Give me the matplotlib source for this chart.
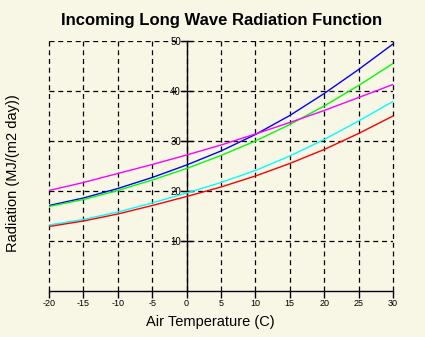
import matplotlib
matplotlib.use("Agg")
import matplotlib.pyplot as plt

# air temperature (C)
temps = [-20, -15, -10, -5, 0, 5, 10, 15, 20, 25, 30]

# incoming long wave radiation, MJ/(m2 day)
blue = [17.1, 18.6, 20.5, 22.7, 25.2, 28.0, 31.3, 35.1, 39.5, 44.3, 49.4]
green = [16.9, 18.3, 20.1, 22.2, 24.5, 27.1, 30.0, 33.3, 37.0, 41.1, 45.5]
magenta = [20.1, 21.7, 23.5, 25.3, 27.2, 29.2, 31.4, 33.7, 36.1, 38.7, 41.3]
cyan = [13.2, 14.3, 15.8, 17.6, 19.6, 21.7, 24.1, 27.0, 30.3, 34.0, 37.9]
red = [12.9, 14.0, 15.4, 17.1, 18.9, 20.8, 23.0, 25.5, 28.3, 31.5, 35.0]

x_ticks = [-20, -15, -10, -5, 0, 5, 10, 15, 20, 25, 30]
y_ticks = [10, 20, 30, 40, 50]

BG = "#F8F7E6"

plt.rcParams["font.family"] = ["Liberation Sans", "DejaVu Sans"]

fig = plt.figure(figsize=(4.25, 3.37), dpi=100, facecolor=BG)
ax = fig.add_axes([49 / 425, 46 / 337, 344 / 425, 250 / 337], facecolor=BG)

series = [
    (blue, "#0000FF"),
    (green, "#00FF00"),
    (magenta, "#FF00FF"),
    (cyan, "#00FFFF"),
    (red, "#FF0000"),
]
for vals, col in series:
    ax.plot(temps, vals, color=col, linewidth=1.0, zorder=3)

ax.set_xlim(-20, 30)
ax.set_ylim(0, 50)
ax.set_xticks(x_ticks)
ax.set_xticklabels([str(t) for t in x_ticks])
ax.set_yticks(y_ticks)
ax.set_yticklabels([str(t) for t in y_ticks])

ax.grid(True, color="black", linestyle=(0, (4, 3)), linewidth=0.9)
ax.set_axisbelow(True)
# keep the edge grid lines (x=-20, x=30, y=50) whole
for gl in ax.get_xgridlines() + ax.get_ygridlines():
    gl.set_clip_on(False)

for side in ["top", "right"]:
    ax.spines[side].set_visible(False)
ax.spines["left"].set_position(("data", 0))
ax.spines["left"].set_linewidth(1.0)
ax.spines["bottom"].set_linewidth(1.0)

ax.tick_params(axis="x", direction="out", length=5, width=1.0, pad=0.5,
               labelsize=6.5)
ax.tick_params(axis="y", direction="inout", length=8, width=1.0, pad=0,
               labelsize=7)

ax.set_xlabel("Air Temperature (C)", fontsize=10.5)
ax.xaxis.set_label_coords(0.47, -0.095)
ax.set_ylabel("Radiation (MJ/(m2 day))", fontsize=10.5)
ax.yaxis.set_label_coords(-0.085, 0.47)
fig.text(0.522, 0.938, "Incoming Long Wave Radiation Function",
         ha="center", va="center", fontsize=12, fontweight="bold")

fig.savefig("out.png", dpi=100, facecolor=BG)
